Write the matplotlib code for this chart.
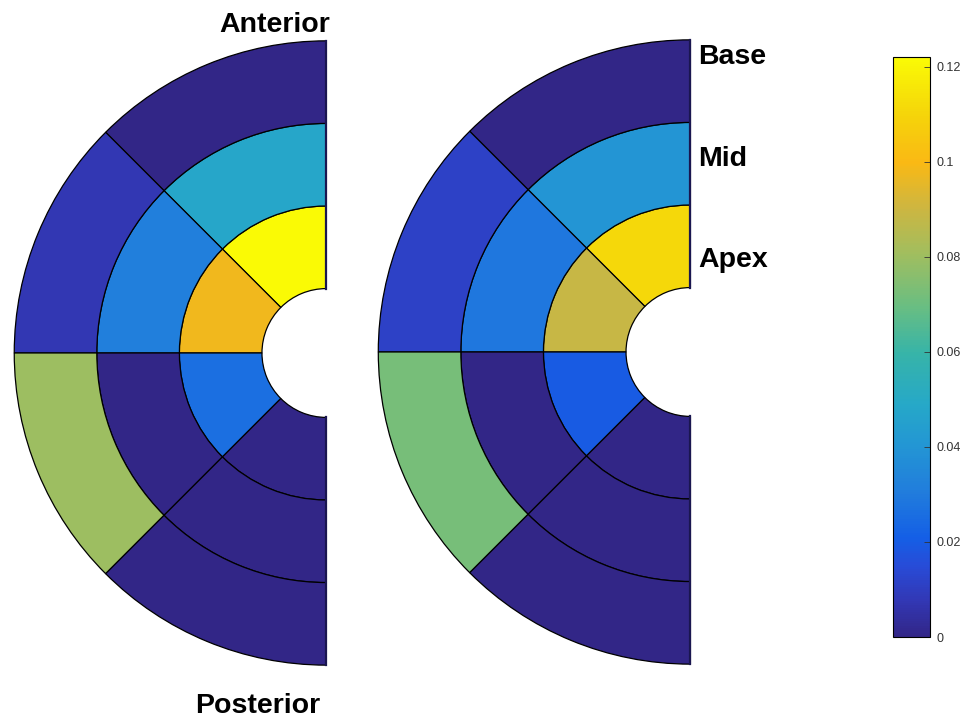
import numpy as np
import matplotlib
matplotlib.use('Agg')
import matplotlib.pyplot as plt
from matplotlib.patches import Wedge
from matplotlib.colors import LinearSegmentedColormap, Normalize
from matplotlib.cm import ScalarMappable

plt.rcParams['font.family'] = ['Liberation Sans', 'DejaVu Sans']

# parula-like colormap, anchors
cmap_pos = [0.0, 0.06, 0.12, 0.17, 0.25, 0.33, 0.40, 0.49, 0.57, 0.66, 0.74, 0.82, 0.90, 1.0]
cmap_rgb = [(50, 38, 135), (50, 55, 180), (40, 75, 215), (20, 95, 230), (33, 125, 220),
            (35, 150, 212), (38, 168, 200), (55, 180, 168), (105, 190, 130), (160, 190, 95),
            (205, 182, 65), (250, 185, 20), (245, 212, 10), (250, 250, 5)]
parula = LinearSegmentedColormap.from_list(
    'parula', [(p, tuple(c / 255 for c in rgb)) for p, rgb in zip(cmap_pos, cmap_rgb)], N=256)

# segment values, ordered anterior -> posterior (90..270 deg)
rings = ['Base', 'Mid', 'Apex']
left_base = [0.0, 0.0073, 0.080, 0.0]
left_mid = [0.048, 0.031, 0.0, 0.0]
left_apex = [0.122, 0.098, 0.026, 0.0]
right_base = [0.0, 0.011, 0.072, 0.0]
right_mid = [0.040, 0.029, 0.0, 0.0]
right_apex = [0.111, 0.089, 0.020, 0.0]
cbar_ticks = [0, 0.02, 0.04, 0.06, 0.08, 0.1, 0.12]
cbar_labels = ['0', '0.02', '0.04', '0.06', '0.08', '0.1', '0.12']

vmax = max(left_apex + right_apex)
norm = Normalize(0, vmax)

r_hole = 0.78
ring_w = 1.0
seg_edges = [90, 135, 180, 225, 270]

fig = plt.figure(figsize=(9.76, 7.19), dpi=100)
R = 3.8
ax_l = fig.add_axes([0.0129, 0.0704, 0.3232, 0.8773])
ax_r = fig.add_axes([0.3859, 0.0718, 0.3232, 0.8773])


def draw_bullseye(ax, base, mid, apex):
    # apex innermost, base outermost
    for k, vals in enumerate([apex, mid, base]):
        r_out = r_hole + ring_w * (k + 1)
        for j, v in enumerate(vals):
            w = Wedge((0, 0), r_out, seg_edges[j], seg_edges[j + 1], width=ring_w,
                      facecolor=parula(norm(v)), edgecolor='black', linewidth=0.9)
            ax.add_patch(w)
    # dark rim along the flat side
    ax.plot([0, 0], [r_hole, r_hole + 3 * ring_w], color='#1a1650', lw=1.6)
    ax.plot([0, 0], [-r_hole, -r_hole - 3 * ring_w], color='#1a1650', lw=1.6)
    ax.set_xlim(-R, 0.02)
    ax.set_ylim(-R, R)
    ax.set_aspect('equal')
    ax.axis('off')


draw_bullseye(ax_l, left_base, left_mid, left_apex)
draw_bullseye(ax_r, right_base, right_mid, right_apex)

# orientation labels
fig.text(0.338, 0.9555, 'Anterior', ha='right', va='baseline', fontsize=20.5, fontweight='bold')
fig.text(0.2638, 0.009, 'Posterior', ha='center', va='baseline', fontsize=20.5, fontweight='bold')
for name, yb in zip(rings, [64, 165.7, 266.7]):
    fig.text(698 / 976, 1 - yb / 719, name, ha='left', va='baseline', fontsize=20.5, fontweight='bold')

# colorbar
cax = fig.add_axes([0.9150, 0.1140, 0.0379, 0.8067])
sm = ScalarMappable(norm=norm, cmap=parula)
cb = fig.colorbar(sm, cax=cax)
cb.set_ticks(cbar_ticks)
cb.set_ticklabels(cbar_labels)
cb.outline.set_linewidth(0.8)
cax.tick_params(direction='in', length=4, width=0.6, labelsize=9, colors='#333333', pad=5)

fig.savefig('out.png', dpi=100)
